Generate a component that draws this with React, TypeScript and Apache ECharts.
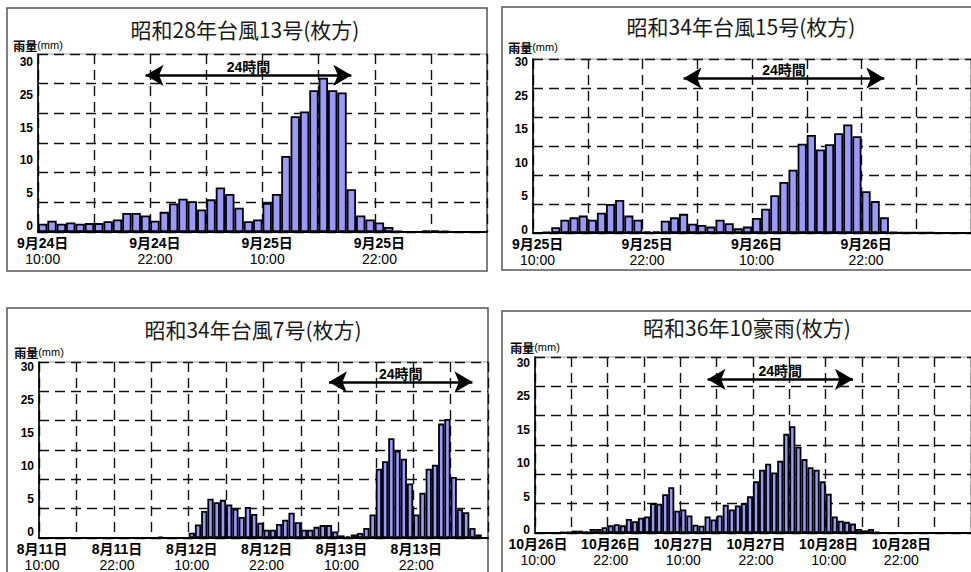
import React, { useEffect, useRef } from "react";
import * as echarts from "echarts";

// ---------- data ----------
function hourly(month: number, day: number, hour: number, count: number): string[] {
  const out: string[] = [];
  for (let i = 0; i < count; i++) {
    const h = hour + i;
    const d = day + Math.floor(h / 24);
    out.push(`${month}月${d}日 ${h % 24}:00`);
  }
  return out;
}

const TITLES = [
  "昭和28年台風13号(枚方)",
  "昭和34年台風15号(枚方)",
  "昭和34年台風7号(枚方)",
  "昭和36年10豪雨(枚方)",
];

const Y_TICK_LABELS = ["0", "5", "10", "15", "25", "30"];
const Y_NAME = "雨量";
const Y_UNIT = "(mm)";
const ARROW_LABEL = "24時間";

const P1_CATEGORIES = hourly(9, 24, 10, 48);
const P2_CATEGORIES = hourly(9, 25, 10, 48);
const P3_CATEGORIES = hourly(8, 11, 10, 72);
const P4_CATEGORIES = hourly(10, 26, 10, 72);

const P1_VALUES = [
  1.4, 1.9, 1.4, 1.6, 1.4, 1.5, 1.5, 1.8, 2.1, 3.2, 3.2, 2.8,
  1.9, 3.4, 4.8, 5.6, 5.2, 3.8, 5.5, 7.5, 6.4, 4.1, 1.8, 2.1,
  4.9, 6.4, 12.8, 19.5, 20.3, 23.9, 26.0, 23.9, 23.5, 7.2, 2.8, 2.1,
  1.6, 0.85, 0.2, 0, 0, 0.3, 0.3, 0.2, 0, 0, 0, 0,
];
const P2_VALUES = [
  0, 0.2, 1.0, 2.3, 2.7, 3.0, 2.3, 3.5, 5.0, 5.7, 3.0, 2.3,
  0.3, 0.3, 2.1, 2.7, 3.3, 1.6, 1.4, 1.1, 2.3, 1.7, 0.8, 1.1,
  2.6, 4.2, 6.5, 8.8, 10.9, 15.4, 16.9, 14.4, 15.3, 17.2, 18.7, 16.7,
  7.2, 5.5, 2.7, 0.2, 0.1, 0.1, 0.1, 0.1, 0, 0, 0, 0,
];
const P3_VALUES = [
  0, 0, 0, 0, 0, 0, 0, 0, 0, 0, 0, 0,
  0, 0, 0, 0, 0, 0, 0, 0.2, 0, 0, 0, 0,
  0.9, 2.3, 4.6, 6.7, 6.1, 6.5, 5.7, 5.0, 3.6, 5.3, 4.1, 2.6,
  1.4, 1.4, 2.4, 3.1, 4.3, 2.7, 1.4, 1.4, 1.9, 2.2, 2.2, 1.1,
  0.45, 0.3, 0.6, 0.85, 1.7, 4.0, 11.8, 13.1, 17.0, 14.9, 13.5, 9.3,
  4.0, 7.7, 11.8, 12.5, 19.5, 20.3, 10.4, 4.9, 4.4, 1.7, 0.6, 0,
];
const P4_VALUES = [
  0, 0, 0, 0, 0.2, 0.2, 0.4, 0.4, 0.3, 0.7, 0.7, 1.0,
  1.3, 1.5, 1.3, 2.4, 2.0, 2.6, 2.8, 5.1, 5.0, 6.6, 7.8, 3.8,
  4.0, 3.0, 1.4, 1.25, 2.8, 2.3, 3.0, 4.8, 4.0, 4.7, 5.1, 6.25,
  8.8, 10.8, 11.8, 10.3, 12.3, 16.9, 18.2, 14.7, 12.6, 11.2, 10.8, 8.8,
  6.7, 2.8, 2.1, 1.9, 1.6, 0.7, 0.45, 0.7, 0.2, 0, 0, 0,
  0, 0, 0, 0, 0, 0, 0, 0, 0, 0, 0, 0,
];

// 24-hour arrow: [start category index, end category index, height]
const P1_ARROW = [11, 33, 26.4];
const P2_ARROW = [16, 38, 26.7];
const P3_ARROW = [46, 69, 26.6];
const P4_ARROW = [28, 52, 26.2];

const CATEGORIES = [P1_CATEGORIES, P2_CATEGORIES, P3_CATEGORIES, P4_CATEGORIES];
const VALUES = [P1_VALUES, P2_VALUES, P3_VALUES, P4_VALUES];
const ARROWS = [P1_ARROW, P2_ARROW, P3_ARROW, P4_ARROW];

// ---------- layout ----------
const LAYOUT = [
  { grid: { left: 38, top: 54, width: 449, height: 178 }, lab: { top: 62, height: 164 }, nameGap: 3, title: [245, 18], box: [7, 8, 480, 263] },
  { grid: { left: 533, top: 59, width: 448, height: 174 }, lab: { top: 62, height: 168 }, nameGap: 6, title: [741, 15], box: [502, 7, 480, 263] },
  { grid: { left: 39, top: 362, width: 449, height: 176 }, lab: { top: 367, height: 165 }, nameGap: 4, title: [253, 318], box: [7, 308, 481, 290] },
  { grid: { left: 535, top: 357, width: 450, height: 176 }, lab: { top: 363, height: 167 }, nameGap: 4, title: [747, 316], box: [502, 311, 480, 290] },
];

const FONT = "'Liberation Sans', Arial, 'Noto Sans CJK JP', sans-serif";
const CJK = "'Noto Sans CJK JP', sans-serif";
const DASH = { color: "#111", type: [10, 6] as any, width: 1.4 };

export default function App() {
  const ref = useRef<HTMLDivElement>(null);

  useEffect(() => {
    if (!ref.current) return;
    const chart = echarts.init(ref.current, undefined, { renderer: "svg" });

    const grid: any[] = [];
    const xAxis: any[] = [];
    const yAxis: any[] = [];
    const series: any[] = [];
    const title: any[] = [];
    const elements: any[] = [];

    LAYOUT.forEach((L, i) => {
      const g = 2 * i;
      grid.push({ ...L.grid, show: true, borderColor: "#9a9a9a", borderWidth: 1.2, backgroundColor: "transparent" });
      grid.push({ left: L.grid.left, width: L.grid.width, top: L.lab.top, height: L.lab.height, show: false });

      xAxis.push({
        gridIndex: g,
        type: "category",
        data: CATEGORIES[i],
        boundaryGap: true,
        axisLine: { show: true, lineStyle: { color: "#000", width: 2 } },
        axisTick: { show: false },
        axisLabel: {
          interval: 11,
          margin: 3,
          color: "#000",
          formatter: (v: string) => {
            const [d, t] = v.split(" ");
            return `{d|${d}}\n{t|${t}}`;
          },
          rich: {
            d: { fontFamily: FONT, fontWeight: "bold", fontSize: 14, lineHeight: 16, color: "#000" },
            t: { fontFamily: FONT, fontWeight: "normal", fontSize: 14, lineHeight: 16, color: "#000" },
          },
        },
        splitLine: { show: true, interval: 5, lineStyle: DASH },
      });
      xAxis.push({ gridIndex: g + 1, type: "value", show: false, min: 0, max: 1 });

      yAxis.push({
        gridIndex: g,
        type: "value",
        min: 0,
        max: 30,
        interval: 5,
        axisLabel: { show: false },
        axisTick: { show: false },
        axisLine: { show: true, lineStyle: { color: "#000", width: 1.6 } },
        splitLine: { show: true, lineStyle: DASH },
        name: `{a|${Y_NAME}}{b|${Y_UNIT}}`,
        nameLocation: "end",
        nameGap: L.nameGap,
        nameTextStyle: {
          rich: {
            a: { fontFamily: CJK, fontWeight: "bold", fontSize: 12, color: "#000" },
            b: { fontFamily: FONT, fontSize: 11, color: "#000" },
          },
        },
      });
      yAxis.push({
        gridIndex: g + 1,
        type: "value",
        min: 0,
        max: Y_TICK_LABELS.length - 1,
        interval: 1,
        axisLine: { show: false },
        axisTick: { show: false },
        splitLine: { show: false },
        axisLabel: {
          margin: 5,
          color: "#000",
          fontFamily: FONT,
          fontWeight: "bold",
          fontSize: 12,
          lineHeight: 11,
          formatter: (v: number) => Y_TICK_LABELS[Math.round(v)] ?? "",
        },
      });

      const A = ARROWS[i];
      series.push({
        type: "bar",
        xAxisIndex: g,
        yAxisIndex: g,
        data: VALUES[i],
        barCategoryGap: "0%",
        itemStyle: { color: "#9999ff", borderColor: "#000", borderWidth: 1.8 },
        emphasis: { disabled: true },
        markLine: {
          silent: true,
          symbol: ["arrow", "arrow"],
          symbolSize: [16, 18],
          lineStyle: { color: "#000", width: 2.6, type: "solid" },
          label: {
            show: true,
            position: "middle",
            formatter: ARROW_LABEL,
            color: "#000",
            fontFamily: FONT,
            fontWeight: "bold",
            fontSize: 14,
            distance: 1,
          },
          emphasis: { disabled: true },
          data: [[{ coord: [A[0], A[2]] }, { coord: [A[1], A[2]] }]],
        },
      });

      title.push({
        text: TITLES[i],
        left: L.title[0],
        top: L.title[1],
        textAlign: "center",
        padding: 0,
        textStyle: { fontFamily: CJK, fontSize: 21, fontWeight: "normal", color: "#1a1a1a" },
      });

      elements.push({
        type: "rect",
        silent: true,
        shape: { x: L.box[0], y: L.box[1], width: L.box[2], height: L.box[3] },
        style: { fill: "none", stroke: "#555", lineWidth: 1.5 },
      });
    });

    chart.setOption({
      animation: false,
      backgroundColor: "#fff",
      title,
      grid,
      xAxis,
      yAxis,
      series,
      graphic: { elements },
    });

    return () => chart.dispose();
  }, []);

  return (
    <div
      ref={ref}
      style={{ position: "fixed", left: 0, top: 0, width: 971, height: 572 }}
    />
  );
}
